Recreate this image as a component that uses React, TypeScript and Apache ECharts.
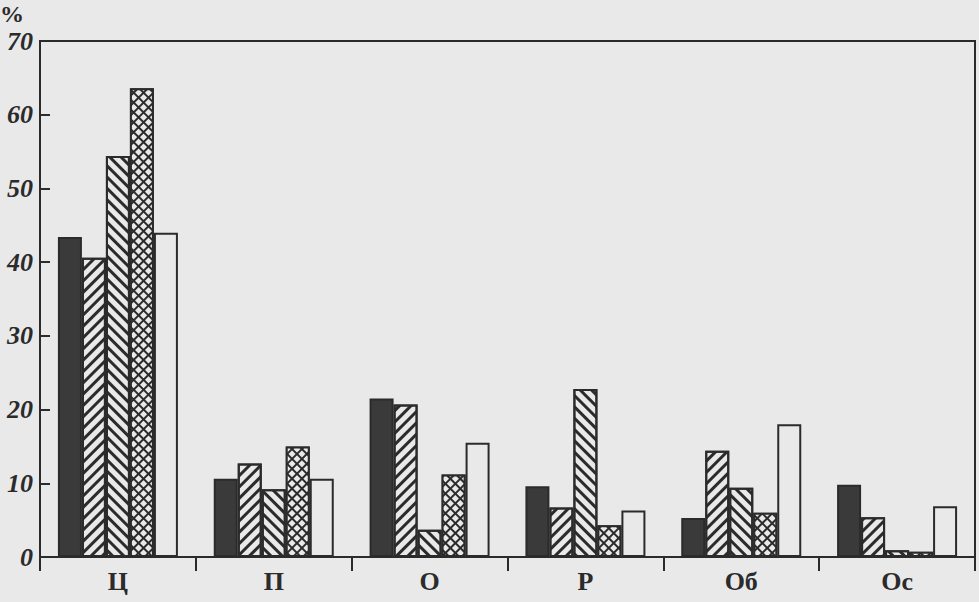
import React, { useEffect, useRef } from 'react';
import * as echarts from 'echarts';

const categories = ['Ц', 'П', 'О', 'Р', 'Об', 'Ос'];
const seriesNames = ['1', '2', '3', '4', '5'];
const solidValues = [43.4, 10.6, 21.5, 9.6, 5.3, 9.8];
const forwardHatchValues = [40.6, 12.7, 20.7, 6.7, 14.4, 5.4];
const backHatchValues = [54.4, 9.2, 3.7, 22.8, 9.4, 0.9];
const crossHatchValues = [63.6, 15.0, 11.2, 4.3, 6.0, 0.7];
const openValues = [44.0, 10.6, 15.5, 6.3, 18.0, 6.9];
const yMin = 0;
const yMax = 70;
const yStep = 10;
const unitLabel = '%';

const PAPER = '#e9e9e9';
const INK = '#2b2b2b';

export default function App() {
  const ref = useRef<HTMLDivElement>(null);
  useEffect(() => {
    if (!ref.current) return;
    const chart = echarts.init(ref.current, null, { renderer: 'svg' });
    const border = { borderColor: INK, borderWidth: 2 };
    const bar = (name: string, data: number[], itemStyle: any) => ({
      type: 'bar',
      name,
      data,
      barWidth: 24,
      barGap: '0%',
      itemStyle: { ...border, ...itemStyle },
    });
    chart.setOption({
      animation: false,
      backgroundColor: PAPER,
      textStyle: { fontFamily: '"Liberation Serif", "Times New Roman", serif' },
      grid: {
        left: 40,
        right: 4,
        top: 41,
        bottom: 45,
        show: true,
        borderColor: INK,
        borderWidth: 2,
        backgroundColor: 'transparent',
      },
      graphic: [
        {
          type: 'text',
          left: 0,
          top: 2,
          style: {
            text: unitLabel,
            font: 'bold 24px "Liberation Serif", serif',
            fill: INK,
          },
        },
      ],
      xAxis: {
        type: 'category',
        data: categories,
        boundaryGap: true,
        axisLine: { lineStyle: { color: INK, width: 2 } },
        axisTick: { show: true, inside: false, length: 14, lineStyle: { color: INK, width: 2 } },
        axisLabel: {
          color: INK,
          fontSize: 26,
          fontWeight: 'bold',
          fontFamily: '"Liberation Serif", serif',
          margin: 11,
        },
        splitLine: { show: false },
      },
      yAxis: {
        type: 'value',
        min: yMin,
        max: yMax,
        interval: yStep,
        axisLine: { show: true, lineStyle: { color: INK, width: 2 } },
        axisTick: { show: true, inside: true, length: 10, lineStyle: { color: INK, width: 2 } },
        axisLabel: {
          color: INK,
          fontSize: 26,
          fontWeight: 'bold',
          fontStyle: 'italic',
          fontFamily: '"Liberation Serif", serif',
          margin: 7,
        },
        splitLine: { show: false },
      },
      series: [
        bar(seriesNames[0], solidValues, { color: '#3a3a3a' }),
        bar(seriesNames[1], forwardHatchValues, {
          color: PAPER,
          decal: {
            symbol: 'rect',
            symbolSize: 1,
            dashArrayX: [1, 0],
            dashArrayY: [2.2, 4.2],
            rotation: -Math.PI / 4,
            color: INK,
            backgroundColor: PAPER,
          },
        }),
        bar(seriesNames[2], backHatchValues, {
          color: PAPER,
          decal: {
            symbol: 'rect',
            symbolSize: 1,
            dashArrayX: [1, 0],
            dashArrayY: [2.2, 4.2],
            rotation: Math.PI / 4,
            color: INK,
            backgroundColor: PAPER,
          },
        }),
        bar(seriesNames[3], crossHatchValues, {
          color: INK,
          decal: {
            symbol: 'rect',
            symbolSize: 1,
            dashArrayX: [4.2, 1.4],
            dashArrayY: [4.2, 1.4],
            rotation: Math.PI / 4,
            color: PAPER,
            backgroundColor: INK,
          },
        }),
        bar(seriesNames[4], openValues, { color: PAPER }),
      ],
    });
    return () => chart.dispose();
  }, []);
  return (
    <div
      ref={ref}
      style={{ position: 'fixed', left: 0, top: 0, width: 979, height: 602 }}
    />
  );
}
